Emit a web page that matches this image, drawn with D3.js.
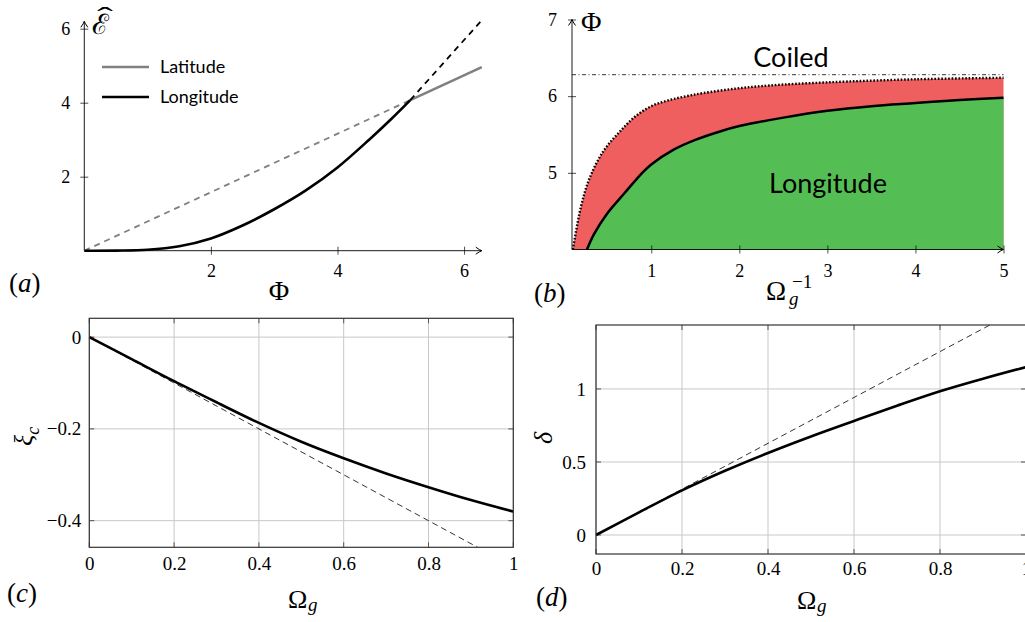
<!DOCTYPE html>
<html>
<head>
<meta charset="utf-8">
<script src="https://cdn.jsdelivr.net/npm/d3@7"></script>
<style>
  body { margin: 0; background: #fff; }
  svg { display: block; }
</style>
</head>
<body>
<script>
// ---- data ----
// (a) energy vs twist
const phiLon = [0, 0.5, 1, 1.5, 2, 2.5, 3, 3.5, 4, 4.5, 4.85, 5.15]
const eLon = [0, 0.003, 0.025, 0.12, 0.33, 0.68, 1.12, 1.63, 2.25, 3.0, 3.56, 4.07]
const phiLonExt = [5.15, 6.28]
const eLonExt = [4.07, 6.23]
const phiLat = [0, 5.15, 6.28]
const eLat = [0, 4.07, 4.96]
const ticksA_x = [2, 4, 6]
const ticksA_y = [2, 4, 6]

// (b) phase diagram
const invOmDot = [0.11, 0.2, 0.3, 0.455, 0.645, 0.835, 1.02, 1.21, 1.4, 1.59, 1.97, 2.35, 3, 4, 5]
const phiDot = [4.0, 4.55, 4.93, 5.28, 5.54, 5.75, 5.88, 5.95, 6.0, 6.04, 6.1, 6.14, 6.18, 6.22, 6.24]
const invOmSolid = [0.27, 0.35, 0.5, 0.7, 0.89, 1.0, 1.25, 1.5, 1.78, 2, 2.5, 3, 3.5, 4, 4.5, 5]
const phiSolid = [4.0, 4.2, 4.47, 4.74, 4.99, 5.11, 5.3, 5.43, 5.54, 5.61, 5.72, 5.81, 5.87, 5.91, 5.95, 5.98]
const phiCoil = 6.28
const ticksB_x = [1, 2, 3, 4, 5]
const ticksB_y = [5, 6, 7]

// (c) and (d)
const omega = [0, 0.1, 0.2, 0.3, 0.4, 0.5, 0.6, 0.7, 0.8, 0.9, 1]
const xi = [0, -0.048, -0.096, -0.142, -0.187, -0.228, -0.264, -0.297, -0.327, -0.355, -0.38]
const xiLinOm = [0, 0.916]
const xiLin = [0, -0.458]
const delta = [0, 0.155, 0.306, 0.44, 0.562, 0.675, 0.781, 0.885, 0.984, 1.07, 1.15]
const deltaLinOm = [0, 0.916]
const deltaLin = [0, 1.438]
const ticksCD_x = [0, 0.2, 0.4, 0.6, 0.8, 1]
const ticksC_y = [0, -0.2, -0.4]
const ticksD_y = [0, 0.5, 1]

const SERIF = "'Liberation Serif', 'DejaVu Serif', serif"
const SANS = "Lato, 'Open Sans', sans-serif"

const svg = d3.select("body").append("svg")
    .attr("width", 1025)
    .attr("height", 622)

// arrow head like the tikz "->"
svg.append("defs").append("marker")
    .attr("id", "arr")
    .attr("markerUnits", "userSpaceOnUse")
    .attr("viewBox", "-8 -5 10 10")
    .attr("refX", 0).attr("refY", 0)
    .attr("markerWidth", 10).attr("markerHeight", 10)
    .attr("orient", "auto")
    .append("path")
    .attr("d", "M-6,-3.5 Q-2,-0.6 0,0 Q-2,0.6 -6,3.5")
    .attr("fill", "none").attr("stroke", "#000").attr("stroke-width", 1)

const zip = (xs, ys) => xs.map((v, i) => [v, ys[i]])

// small text helper, fonts go through style so nothing overrides them
function label(x, y, str, fam, size, italic) {
    return svg.append("text").attr("x", x).attr("y", y)
        .style("font-family", fam).style("font-size", size + "px")
        .style("font-style", italic ? "italic" : "normal")
        .attr("fill", "#000")
        .html(str)
}

function styleTicks(g, size) {
    g.selectAll("text")
        .style("font-family", SERIF)
        .style("font-size", size + "px")
        .attr("fill", "#000")
}

// =================== (a) ===================
const xA = d3.scaleLinear().domain([0, 6.28]).range([84.3, 481.8])
const yA = d3.scaleLinear().domain([0, 6]).range([250.7, 28.7])
const lineA = d3.line().x(d => xA(d[0])).y(d => yA(d[1]))

const axA_x = svg.append("g")
    .attr("transform", "translate(0," + yA(0) + ")")
    .call(d3.axisBottom(xA).tickValues(ticksA_x).tickFormat(d3.format("d")).tickSizeInner(4).tickSizeOuter(0).tickPadding(9.5))
axA_x.select(".domain").remove()
axA_x.selectAll(".tick line").attr("y1", -4).attr("stroke-width", 0.7)
styleTicks(axA_x, 18)

const axA_y = svg.append("g")
    .attr("transform", "translate(" + xA(0) + ",0)")
    .call(d3.axisLeft(yA).tickValues(ticksA_y).tickFormat(d3.format("d")).tickSizeInner(4).tickSizeOuter(0).tickPadding(10))
axA_y.select(".domain").remove()
axA_y.selectAll(".tick line").attr("x1", 4).attr("stroke-width", 0.7)
styleTicks(axA_y, 18)

svg.append("line")
    .attr("x1", xA(0)).attr("y1", yA(0)).attr("x2", xA(6.28)).attr("y2", yA(0))
    .attr("stroke", "#000").attr("stroke-width", 0.9).attr("marker-end", "url(#arr)")
svg.append("line")
    .attr("x1", xA(0)).attr("y1", yA(0)).attr("x2", xA(0)).attr("y2", yA(6.2))
    .attr("stroke", "#000").attr("stroke-width", 0.9).attr("marker-end", "url(#arr)")

// latitude: dashed up to the crossing, then solid
svg.append("path")
    .attr("d", lineA(zip(phiLat, eLat).slice(0, 2)))
    .attr("fill", "none").attr("stroke", "#808080").attr("stroke-width", 1.8)
    .attr("stroke-dasharray", "6,5")
svg.append("path")
    .attr("d", lineA(zip(phiLat, eLat).slice(1)))
    .attr("fill", "none").attr("stroke", "#808080").attr("stroke-width", 2.6)

// longitude
const smooth = d3.curveCatmullRom.alpha(0.5)
const lineA_s = d3.line().x(d => xA(d[0])).y(d => yA(d[1])).curve(smooth)
svg.append("path")
    .attr("d", lineA_s(zip(phiLon, eLon)))
    .attr("fill", "none").attr("stroke", "#000").attr("stroke-width", 2.6)
svg.append("path")
    .attr("d", lineA(zip(phiLonExt, eLonExt)))
    .attr("fill", "none").attr("stroke", "#000").attr("stroke-width", 1.8)
    .attr("stroke-dasharray", "6,5")

// legend
;[["Latitude", "#808080", 67], ["Longitude", "#000", 97]].forEach(r => {
    svg.append("line").attr("x1", 102).attr("x2", 149).attr("y1", r[2]).attr("y2", r[2])
        .attr("stroke", r[1]).attr("stroke-width", 2.6)
    label(160, r[2] + 6, r[0], SANS, 18)
})

// axis labels
label(279, 300, "Φ", SERIF, 28).attr("text-anchor", "middle")
label(92, 34, "ℰ", SERIF, 28)
svg.append("text").attr("transform", "translate(105,26) scale(1.7,1)")
    .attr("text-anchor", "middle")
    .style("font-family", SERIF).style("font-size", "28px").text("ˆ")
label(9, 292, "(<tspan font-style='italic'>a</tspan>)", SERIF, 27)

// =================== (b) ===================
const xB = d3.scaleLinear().domain([0.1, 5]).range([572, 1003.5])
const yB = d3.scaleLinear().domain([4, 7]).range([249.5, 19.5])

const areaB = d3.area().x(d => xB(d[0])).y0(yB(4)).y1(d => yB(d[1])).curve(smooth)
const lineB = d3.line().x(d => xB(d[0])).y(d => yB(d[1])).curve(smooth)

svg.append("path").attr("d", areaB(zip(invOmDot, phiDot))).attr("fill", "#ef5f5f")
svg.append("path").attr("d", areaB(zip(invOmSolid, phiSolid))).attr("fill", "#54be54")
svg.append("path").attr("d", lineB(zip(invOmSolid, phiSolid)))
    .attr("fill", "none").attr("stroke", "#000").attr("stroke-width", 2.5)
svg.append("path").attr("d", lineB(zip(invOmDot, phiDot)))
    .attr("fill", "none").attr("stroke", "#000").attr("stroke-width", 2.4)
    .attr("stroke-dasharray", "1.6,1.8")
svg.append("line")
    .attr("x1", xB(0.1)).attr("x2", xB(5)).attr("y1", yB(phiCoil)).attr("y2", yB(phiCoil))
    .attr("stroke", "#000").attr("stroke-width", 0.8).attr("stroke-dasharray", "4,2.5,1,2.5")

const axB_x = svg.append("g")
    .attr("transform", "translate(0," + yB(4) + ")")
    .call(d3.axisBottom(xB).tickValues(ticksB_x).tickFormat(d3.format("d")).tickSizeInner(4).tickSizeOuter(0).tickPadding(10.5))
axB_x.select(".domain").remove()
axB_x.selectAll(".tick line").attr("y1", -4).attr("stroke-width", 0.7)
styleTicks(axB_x, 18)

const axB_y = svg.append("g")
    .attr("transform", "translate(" + xB(0.1) + ",0)")
    .call(d3.axisLeft(yB).tickValues(ticksB_y).tickFormat(d3.format("d")).tickSizeInner(4).tickSizeOuter(0).tickPadding(11))
axB_y.select(".domain").remove()
axB_y.selectAll(".tick line").attr("x1", 4).attr("stroke-width", 0.7)
styleTicks(axB_y, 18)

svg.append("line")
    .attr("x1", xB(0.1)).attr("y1", yB(4)).attr("x2", xB(5)).attr("y2", yB(4))
    .attr("stroke", "#000").attr("stroke-width", 0.9).attr("marker-end", "url(#arr)")
svg.append("line")
    .attr("x1", xB(0.1)).attr("y1", yB(4)).attr("x2", xB(0.1)).attr("y2", yB(7))
    .attr("stroke", "#000").attr("stroke-width", 0.9).attr("marker-end", "url(#arr)")

label(791, 67, "Coiled", SANS, 27).attr("text-anchor", "middle")
label(828, 193, "Longitude", SANS, 27).attr("text-anchor", "middle")

label(581, 31, "Φ", SERIF, 28)
label(766, 300, "Ω", SERIF, 27)
label(789, 305, "g", SERIF, 19, true)
label(792, 288, "−1", SERIF, 19)
label(534, 302, "(<tspan font-style='italic'>b</tspan>)", SERIF, 27)

// =================== boxed panels (c), (d) ===================
const fmtNum = d => (d < 0 ? "−" : "") + d3.format("")(Math.abs(d))

function boxPanel(x, y, xTicks, yTicks, padX, padY) {
    const [x0, x1] = x.range(), [y0, y1] = y.range()
    const g = svg.append("g")
    // grid
    g.selectAll(".gx").data(xTicks).join("line")
        .attr("x1", d => x(d)).attr("x2", d => x(d)).attr("y1", y0).attr("y2", y1)
        .attr("stroke", "#c8c8c8").attr("stroke-width", 1)
    g.selectAll(".gy").data(yTicks).join("line")
        .attr("y1", d => y(d)).attr("y2", d => y(d)).attr("x1", x0).attr("x2", x1)
        .attr("stroke", "#c8c8c8").attr("stroke-width", 1)
    // inner tick marks on all four sides
    ;[y0, y1].forEach((yy, k) => {
        g.selectAll(null).data(xTicks).join("line")
            .attr("x1", d => x(d)).attr("x2", d => x(d))
            .attr("y1", yy).attr("y2", yy + (k === 0 ? -5 : 5))
            .attr("stroke", "#555").attr("stroke-width", 1)
    })
    ;[x0, x1].forEach((xx, k) => {
        g.selectAll(null).data(yTicks).join("line")
            .attr("y1", d => y(d)).attr("y2", d => y(d))
            .attr("x1", xx).attr("x2", xx + (k === 0 ? 5 : -5))
            .attr("stroke", "#555").attr("stroke-width", 1)
    })
    const ax = g.append("g").attr("transform", "translate(0," + y0 + ")")
        .call(d3.axisBottom(x).tickValues(xTicks).tickFormat(fmtNum).tickSize(0).tickPadding(padX))
    ax.select(".domain").remove()
    styleTicks(ax, 19)
    const ay = g.append("g").attr("transform", "translate(" + x0 + ",0)")
        .call(d3.axisLeft(y).tickValues(yTicks).tickFormat(fmtNum).tickSize(0).tickPadding(padY))
    ay.select(".domain").remove()
    styleTicks(ay, 19)
}
function frame(x, y) {
    const [x0, x1] = x.range(), [y0, y1] = y.range()
    svg.append("rect").attr("x", x0).attr("y", y1).attr("width", x1 - x0).attr("height", y0 - y1)
        .attr("fill", "none").attr("stroke", "#333").attr("stroke-width", 1.2)
}

// (c)
const xC = d3.scaleLinear().domain([0, 1]).range([89.3, 513.3])
const yC = d3.scaleLinear().domain([-0.458, 0.041]).range([547.3, 318.3])
boxPanel(xC, yC, ticksCD_x, ticksC_y, 9, 8)
const lineC = d3.line().x(d => xC(d[0])).y(d => yC(d[1]))
svg.append("path").attr("d", lineC(zip(xiLinOm, xiLin)))
    .attr("fill", "none").attr("stroke", "#000").attr("stroke-width", 0.8).attr("stroke-dasharray", "6,4")
svg.append("path").attr("d", lineC.curve(smooth)(zip(omega, xi)))
    .attr("fill", "none").attr("stroke", "#000").attr("stroke-width", 2.6)
frame(xC, yC)

svg.append("text").attr("transform", "translate(32,446) rotate(-90)")
    .style("font-family", SERIF).style("font-style", "italic").style("font-size", "26px")
    .html("ξ<tspan style='font-size:18px' dy='7'>c</tspan>")
label(288, 608, "Ω", SERIF, 26)
label(308, 611, "g", SERIF, 19, true)
label(7, 602, "(<tspan font-style='italic'>c</tspan>)", SERIF, 27)

// (d)
const xD = d3.scaleLinear().domain([0, 1]).range([596, 1026])
const yD = d3.scaleLinear().domain([-0.13, 1.438]).range([554, 325])
boxPanel(xD, yD, ticksCD_x, ticksD_y, 8, 10)
const lineD = d3.line().x(d => xD(d[0])).y(d => yD(d[1]))
svg.append("path").attr("d", lineD(zip(deltaLinOm, deltaLin)))
    .attr("fill", "none").attr("stroke", "#000").attr("stroke-width", 0.8).attr("stroke-dasharray", "6,4")
svg.append("path").attr("d", lineD.curve(smooth)(zip(omega, delta)))
    .attr("fill", "none").attr("stroke", "#000").attr("stroke-width", 2.6)
frame(xD, yD)

svg.append("text").attr("transform", "translate(552,444) rotate(-90)")
    .style("font-family", SERIF).style("font-style", "italic").style("font-size", "26px").text("δ")
label(797, 609, "Ω", SERIF, 26)
label(817, 612, "g", SERIF, 19, true)
label(536, 606, "(<tspan font-style='italic'>d</tspan>)", SERIF, 27)
</script>
</body>
</html>
